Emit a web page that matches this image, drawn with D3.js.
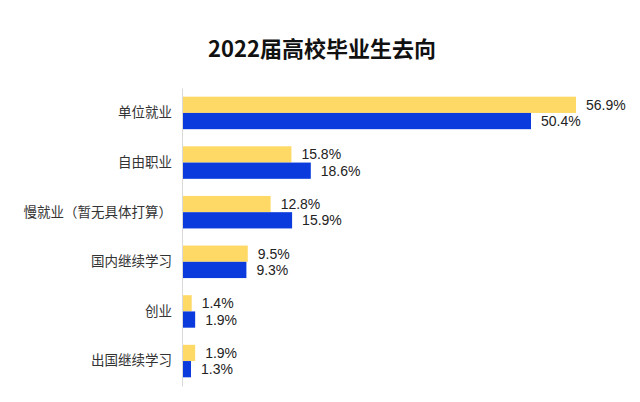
<!DOCTYPE html>
<html><head><meta charset="utf-8">
<script src="https://cdn.jsdelivr.net/npm/d3@7"></script>
<style>body{margin:0;background:#fff;}svg{display:block;}</style>
</head><body>
<svg id="chart" width="640" height="402"></svg>
<script>
const categories = ["单位就业","自由职业","慢就业（暂无具体打算）","国内继续学习","创业","出国继续学习"];
const seriesA = [56.9, 15.8, 12.8, 9.5, 1.4, 1.9];
const seriesB = [50.4, 18.6, 15.9, 9.3, 1.9, 1.3];
const seriesKeys = ["A","B"];
const title = "2022届高校毕业生去向";

const svg = d3.select("#chart");
const font = "'Noto Sans CJK SC','Microsoft YaHei',sans-serif";
const numFont = "'Liberation Sans',Arial,sans-serif";
const x = d3.scaleLinear().domain([0, 56.9]).range([182, 576]);
const y = d3.scaleBand().domain(categories).range([88, 386]).paddingInner(0.345).paddingOuter(0.175);
const y2 = d3.scaleBand().domain(seriesKeys).range([0, y.bandwidth()]);
const colors = {A:"#FFD966", B:"#0B3BDD"};

svg.append("text").attr("x",322).attr("y",47).attr("text-anchor","middle")
  .attr("dominant-baseline","central").attr("font-family",font).attr("font-weight","bold")
  .attr("font-size",22).attr("fill","#111").text(title);

const data = categories.map((c,i)=>({c, A:seriesA[i], B:seriesB[i]}));
const g = svg.append("g");
data.forEach(d=>{
  seriesKeys.forEach(k=>{
    const yy = y(d.c)+y2(k);
    g.append("rect").attr("x",x(0)).attr("y",yy).attr("width",x(d[k])-x(0))
      .attr("height",y2.bandwidth()).attr("fill",colors[k]);
    g.append("text").attr("x",x(d[k])+10).attr("y",yy+y2.bandwidth()/2)
      .attr("dominant-baseline","central").attr("font-family",numFont).attr("font-size",14)
      .attr("fill","#222").text(d[k].toFixed(1)+"%");
  });
});

const axis = d3.axisLeft(y).tickSize(0).tickPadding(10);
const ag = svg.append("g").attr("transform",`translate(${x(0)},0)`).call(axis);
ag.select(".domain").attr("stroke","#d9d9d9").attr("stroke-width",1);
ag.selectAll("text").attr("font-family",font).attr("font-size",13.5).attr("fill","#333");
</script>
</body></html>
